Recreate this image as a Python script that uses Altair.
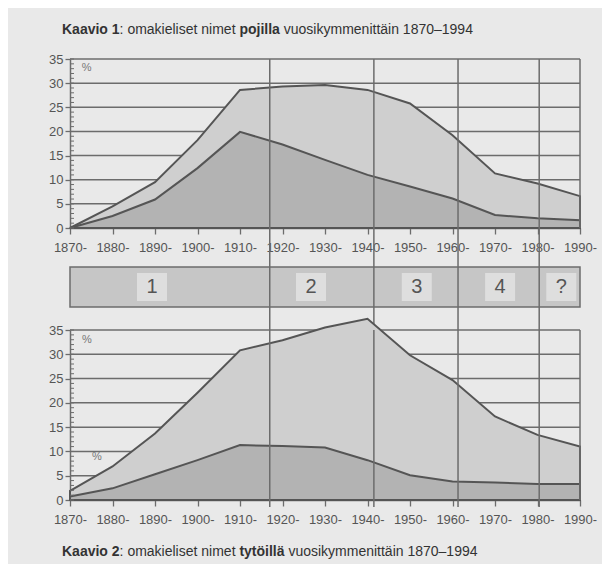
import altair as alt
import pandas as pd

# ---- data ----
decades = [1870, 1880, 1890, 1900, 1910, 1920, 1930, 1940, 1950, 1960, 1970, 1980, 1990]
boys_total = [0.0, 4.5, 9.5, 18.2, 28.6, 29.3, 29.6, 28.6, 25.8, 19.2, 11.3, 9.2, 6.6]
boys_lower = [0.0, 2.5, 5.9, 12.4, 19.9, 17.3, 14.1, 11.0, 8.6, 6.1, 2.7, 2.0, 1.6]
girls_total = [1.9, 6.9, 13.7, 22.1, 30.8, 32.9, 35.5, 37.3, 29.8, 24.7, 17.2, 13.4, 11.0]
girls_lower = [0.7, 2.4, 5.3, 8.2, 11.3, 11.1, 10.8, 8.2, 5.1, 3.8, 3.6, 3.3, 3.3]

period_bounds = [1917, 1941.5, 1961.3, 1980.4]
period_labels = ["1", "2", "3", "4", "?"]
period_label_x = [1889.3, 1926.7, 1951.6, 1971.2, 1985.6]
band_start = [1870]
band_end = [1990]

y_ticks = [0, 5, 10, 15, 20, 25, 30, 35]
grid_values = [5, 10, 15, 20, 25, 30, 35]
minor_ticks = list(range(0, 36))

pct_top = {"year": [1873.9], "val": [33.1], "t": ["%"]}
pct_bottom = {"year": [1874.0, 1876.3], "val": [32.9, 8.9], "t": ["%", "%"]}

title1 = ["Kaavio 1", ": omakieliset nimet", "pojilla", "vuosikymmenittäin 1870–1994"]
title2 = ["Kaavio 2", ": omakieliset nimet", "tytöillä", "vuosikymmenittäin 1870–1994"]

# ---- style ----
FONT = "Liberation Sans"
BG = "#e9e9e9"
LIGHT = "#cfcfcf"
DARK = "#b3b3b3"
LINE = "#555555"
GRID = "#6c6c6c"
TEXT = "#555555"
W = 510
H1 = 169
H2 = 170
GAP1 = 39   # top plot bottom -> band top
HB = 40     # band height
GAP2 = 23   # band bottom -> bottom plot top
HBP = GAP1 + HB + GAP2

xscale = alt.Scale(domain=[1870, 1990], nice=False)
yscale = alt.Scale(domain=[0, 35], nice=False)

xaxis = alt.Axis(values=decades, labelExpr="datum.value + '-'", grid=False, tickSize=6,
                 tickColor=GRID, tickWidth=1.3, domainColor=GRID, domainWidth=1.5,
                 labelFont=FONT, labelFontSize=13, labelColor=TEXT, labelPadding=7,
                 labelFlush=False, labelOverlap=False, title=None)
yaxis = alt.Axis(values=y_ticks, grid=False, tickSize=5,
                 tickColor=GRID, tickWidth=1.3, domainColor=GRID, domainWidth=1.5,
                 labelFont=FONT, labelFontSize=13, labelColor=TEXT, labelPadding=2,
                 title=None)


def X(field):
    return alt.X(field, scale=xscale, axis=xaxis, title=None)


def Y(field):
    return alt.Y(field, scale=yscale, axis=yaxis, title=None)


def title_layers(parts, y):
    # widths from Liberation Sans (Arial metrics) at 14px
    xs = [-8, -8 + 57.6, -8 + 57.6 + 119.8, None]
    second_bold = {"pojilla": 40.5, "tytöillä": 45.1}[parts[2]]
    xs[3] = xs[2] + second_bold + 3.9
    weights = ["bold", "normal", "bold", "normal"]
    layers = []
    for p, x, wgt in zip(parts, xs, weights):
        layers.append(
            alt.Chart(pd.DataFrame({"t": [p]})).mark_text(
                align="left", baseline="middle", font=FONT, fontSize=14,
                fontWeight=wgt, color="#333333"
            ).encode(x=alt.value(x), y=alt.value(y), text="t:N")
        )
    return layers


def panel(total, lower, H, pct, rule_top, rule_bottom, title_parts, title_y):
    df = pd.DataFrame({"year": decades, "total": total, "lower": lower})
    grid = alt.Chart(pd.DataFrame({"v": grid_values})).mark_rule(
        color=GRID, strokeWidth=1.5
    ).encode(y=Y("v:Q"), x=alt.value(0), x2=alt.value(W))
    upper_area = alt.Chart(df).mark_area(
        fill=LIGHT, fillOpacity=1, opacity=1, stroke=LINE, strokeWidth=2, strokeOpacity=1
    ).encode(x=X("year:Q"), y=Y("total:Q"), y2=alt.datum(0))
    lower_area = alt.Chart(df).mark_area(
        fill=DARK, fillOpacity=1, opacity=1, stroke=LINE, strokeWidth=2, strokeOpacity=1
    ).encode(x=X("year:Q"), y=Y("lower:Q"), y2=alt.datum(0))
    frame = alt.Chart(pd.DataFrame({"year": band_end, "lo": [0], "hi": [35]})).mark_rule(
        color=GRID, strokeWidth=1.5
    ).encode(x=X("year:Q"), y=Y("lo:Q"), y2="hi:Q")
    rules = alt.Chart(pd.DataFrame({"year": period_bounds})).mark_rule(
        color=GRID, strokeWidth=1.5
    ).encode(x=X("year:Q"), y=alt.value(rule_top), y2=alt.value(rule_bottom))
    minor = alt.Chart(pd.DataFrame({"v": minor_ticks})).mark_tick(
        orient="horizontal", size=4, thickness=1, color=GRID, opacity=1
    ).encode(y=Y("v:Q"), x=alt.value(2))
    pct_text = alt.Chart(pd.DataFrame(pct)).mark_text(
        font=FONT, fontSize=11, color="#777777"
    ).encode(x=X("year:Q"), y=Y("val:Q"), text="t:N")
    front = alt.layer(upper_area, lower_area, frame, rules, minor, pct_text,
                      *title_layers(title_parts, title_y))
    return alt.layer(grid, front).properties(width=W, height=H)


top = panel(boys_total, boys_lower, H1, pct_top, 0, H1, title1, -29)
bottom = panel(girls_total, girls_lower, H2, pct_bottom, 0, H2 + 7, title2, H2 + 52)

band_df = pd.DataFrame({"start": band_start, "end": band_end})
band_rect = alt.Chart(band_df).mark_rect(
    fill="#c6c6c6", stroke=GRID, strokeWidth=1.5
).encode(
    x=alt.X("start:Q", scale=xscale, axis=None),
    x2="end:Q",
    y=alt.value(GAP1),
    y2=alt.value(GAP1 + HB),
)
lab_df = pd.DataFrame({"x": period_label_x, "t": period_labels})
boxes = alt.Chart(lab_df).mark_rect(width=30, height=28, fill="#dedede").encode(
    x=alt.X("x:Q", scale=xscale, axis=None),
    y=alt.value(GAP1 + HB / 2),
)
band_rules = alt.Chart(pd.DataFrame({"year": period_bounds})).mark_rule(
    color=GRID, strokeWidth=1.5
).encode(
    x=alt.X("year:Q", scale=xscale, axis=None),
    y=alt.value(0),
    y2=alt.value(HBP),
)
nums = alt.Chart(lab_df).mark_text(
    font=FONT, fontSize=20, color=TEXT, baseline="middle"
).encode(
    x=alt.X("x:Q", scale=xscale, axis=None),
    y=alt.value(GAP1 + HB / 2),
    text="t:N",
)
band = alt.layer(band_rect, boxes, band_rules, nums).properties(width=W, height=HBP)

chart = alt.vconcat(top, band, bottom, spacing=0, bounds="flush").properties(
    padding={"left": 40, "top": 15, "right": 5, "bottom": 5}
).configure(background=BG).configure_view(stroke=None)

chart.save("out.html", embed_options={"renderer": "svg", "actions": False})
